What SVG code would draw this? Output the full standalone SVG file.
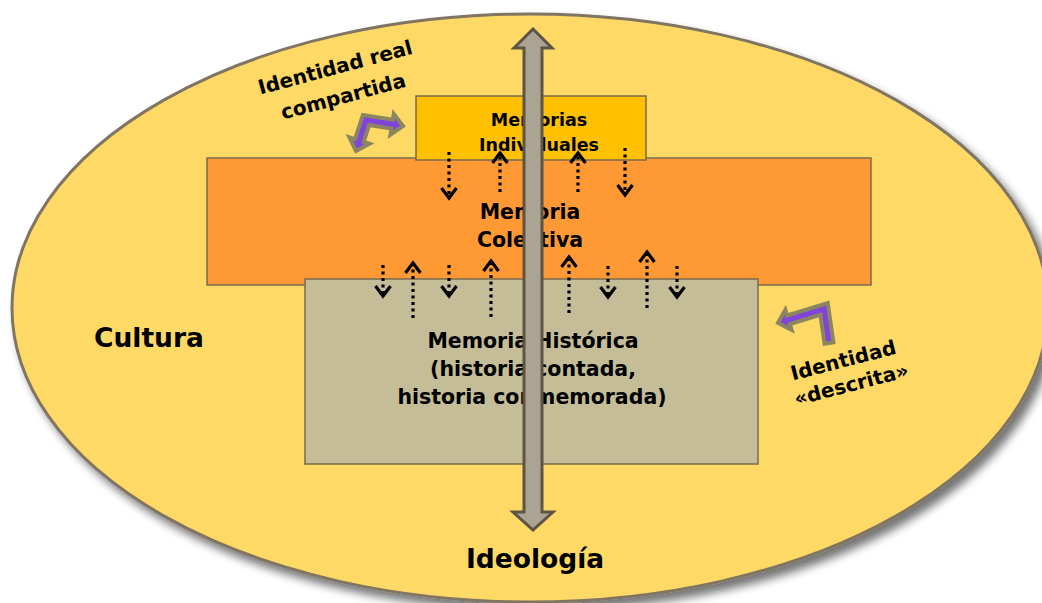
<svg xmlns="http://www.w3.org/2000/svg" width="1042" height="603" viewBox="0 0 1042 603">
<defs>
<filter id="shadow" x="-10%" y="-10%" width="125%" height="125%">
<feGaussianBlur in="SourceAlpha" stdDeviation="5"/>
<feOffset dx="6" dy="7" result="b"/>
<feComponentTransfer><feFuncA type="linear" slope="0.55"/></feComponentTransfer>
<feMerge><feMergeNode/><feMergeNode in="SourceGraphic"/></feMerge>
</filter>
<marker id="chev" markerUnits="userSpaceOnUse" markerWidth="24" markerHeight="24" viewBox="-14 -12 18 24" refX="0" refY="0" orient="auto">
<path d="M -10 -7.5 L 0 0 L -10 7.5" fill="none" stroke="#000" stroke-width="3.2"/>
</marker>
</defs>
<style>
text{font-family:"DejaVu Sans","Verdana",sans-serif;font-weight:bold;fill:#000;text-anchor:middle}
.box{stroke:#7a6a4f;stroke-width:1.5}
.dot{fill:none;stroke:#000;stroke-width:3.2;stroke-dasharray:3 3.5;marker-end:url(#chev)}
.purple{fill:#8044DD;stroke:#8C8660;stroke-width:4;stroke-linejoin:miter}
</style>
<g id="cultura">
<ellipse cx="530" cy="308" rx="518" ry="294" fill="#FFD966" stroke="#7F7462" stroke-width="3" filter="url(#shadow)"/>
<text x="149" y="347" font-size="26.5">Cultura</text>
</g>
<g id="memoria-colectiva">
<rect class="box" x="207" y="158" width="664" height="127" fill="#FF9933"/>
<text x="530" y="219" font-size="20.5">Memoria</text>
<text x="530" y="247" font-size="20.5">Colectiva</text>
</g>
<g id="memoria-historica">
<rect class="box" x="305" y="279" width="453" height="185" fill="#C4BD97"/>
<text x="533" y="348" font-size="20.5">Memoria Histórica</text>
<text x="533" y="376" font-size="20.5">(historia contada,</text>
<text x="532" y="404" font-size="20.5">historia conmemorada)</text>
</g>
<g id="memorias-individuales">
<rect class="box" x="416" y="96" width="230" height="64" fill="#FFC000"/>
<text x="539" y="126" font-size="17.5">Memorias</text>
<text x="539" y="151" font-size="17.5">Individuales</text>
</g>
<g id="identidad-real">
<text font-size="20" transform="translate(337,74) rotate(-15)" x="0" y="0">Identidad real</text>
<text font-size="20" transform="translate(345,103) rotate(-15)" x="0" y="0">compartida</text>
</g>
<g id="identidad-descrita">
<text font-size="20" transform="translate(845,367) rotate(-14.5)" x="0" y="0">Identidad</text>
<text font-size="20" transform="translate(853,391) rotate(-14.5)" x="0" y="0">«descrita»</text>
</g>
<g id="ideologia">
<text x="535" y="568" font-size="26.5">Ideología</text>
</g>
<g id="connectors">
<line class="dot" x1="449" y1="152" x2="449" y2="198"/>
<line class="dot" x1="500" y1="192" x2="500" y2="153"/>
<line class="dot" x1="578" y1="192" x2="578" y2="153"/>
<line class="dot" x1="625" y1="148" x2="625" y2="195"/>
<line class="dot" x1="383" y1="265" x2="383" y2="296"/>
<line class="dot" x1="413" y1="318" x2="413" y2="263"/>
<line class="dot" x1="449" y1="265" x2="449" y2="296"/>
<line class="dot" x1="491" y1="317" x2="491" y2="261"/>
<line class="dot" x1="569" y1="313" x2="569" y2="257"/>
<line class="dot" x1="608" y1="266" x2="608" y2="297"/>
<line class="dot" x1="647" y1="308" x2="647" y2="252"/>
<line class="dot" x1="677" y1="266" x2="677" y2="297"/>
<polygon class="purple" points="362.9,114.9 392.8,119.8 393.8,113.8 403,126 390.4,134.6 391.4,128.6 369.1,125.1 363.7,141.9 369.4,143.7 356,151 349.4,137.3 355.1,139.1"/>
<polygon class="purple" points="833.4,342.3 827.7,303.2 787.2,315.5 785.4,309.8 778,323 791.6,329.8 789.8,324.1 820.3,314.8 824.6,343.7"/>
<polygon points="533,29 552,48 542,48 542,512 553,512 533,530 513,512 524,512 524,48 514,48" fill="#ABA492" stroke="#5E5445" stroke-width="3" stroke-linejoin="miter"/>
</g>
</svg>
